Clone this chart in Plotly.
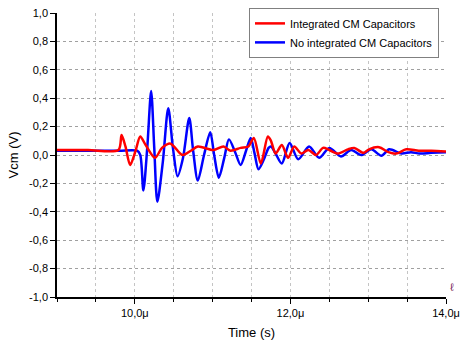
import plotly.graph_objects as go

# ---- data (time in microseconds, voltage in V) ----
blue_t = [9.0, 9.4, 9.8, 10.03, 10.07, 10.11, 10.16, 10.21, 10.25, 10.29, 10.36, 10.43, 10.49, 10.55,
          10.62, 10.70, 10.75, 10.81, 10.89, 10.97, 11.02, 11.08, 11.15, 11.21, 11.29, 11.36, 11.43,
          11.49, 11.54, 11.59, 11.66, 11.72, 11.75, 11.81, 11.89, 11.99, 12.10, 12.24, 12.37, 12.50,
          12.65, 12.78, 12.91, 13.04, 13.17, 13.27, 13.43, 13.55, 13.66, 13.81, 14.0]
blue_v = [0.03, 0.03, 0.03, 0.03, 0.0, -0.25, 0.05, 0.45, 0.05, -0.33, -0.05, 0.33, 0.05, -0.15,
          -0.02, 0.26, 0.03, -0.18, 0.0, 0.16, 0.0, -0.16, -0.02, 0.11, 0.02, -0.07, 0.03,
          0.12, 0.01, -0.10, -0.03, 0.05, 0.06, 0.01, -0.06, 0.085, -0.03, 0.06, -0.02, 0.05,
          -0.01, 0.035, 0.0, 0.04, -0.005, 0.04, 0.01, 0.02, 0.01, 0.015, 0.02]

red_t = [9.0, 9.4, 9.79, 9.83, 9.88, 9.94, 10.01, 10.07, 10.14, 10.26, 10.35, 10.46, 10.61, 10.72,
         10.81, 11.01, 11.14, 11.23, 11.36, 11.46, 11.53, 11.62, 11.71, 11.75, 11.81, 11.89, 11.97,
         12.05, 12.14, 12.23, 12.33, 12.42, 12.50, 12.61, 12.74, 12.82, 12.94, 13.01, 13.14, 13.26,
         13.36, 13.49, 13.65, 13.81, 14.0]
red_v = [0.035, 0.035, 0.035, 0.14, 0.06, -0.07, 0.03, 0.13, 0.07, -0.02, 0.05, 0.08, 0.0, 0.03,
         0.06, 0.035, 0.06, 0.03, 0.05, 0.06, 0.12, -0.06, 0.13, 0.10, 0.01, 0.07, -0.02,
         0.06, 0.01, 0.035, 0.0, 0.05, 0.035, 0.01, 0.04, 0.05, 0.015, 0.04, 0.055, 0.02,
         0.01, 0.04, 0.03, 0.03, 0.025]

x_tickvals = [10, 12, 14]
x_ticktext = ["10,0\u03bc", "12,0\u03bc", "14,0\u03bc"]
y_tickvals = [1.0, 0.8, 0.6, 0.4, 0.2, 0.0, -0.2, -0.4, -0.6, -0.8, -1.0]
y_ticktext = ["1,0", "0,8", "0,6", "0,4", "0,2", "0,0", "-0,2", "-0,4", "-0,6", "-0,8", "-1,0"]

series_names = ["Integrated CM Capacitors", "No integrated CM Capacitors"]

fig = go.Figure()
fig.add_trace(go.Scatter(x=blue_t, y=blue_v, mode="lines", name=series_names[1],
                         line=dict(color="#0000ff", width=2.5, shape="spline", smoothing=0.8),
                         legendrank=2))
fig.add_trace(go.Scatter(x=red_t, y=red_v, mode="lines", name=series_names[0],
                         line=dict(color="#ff0000", width=2.5, shape="spline", smoothing=0.8),
                         legendrank=1))

font = "Liberation Sans, Arial, sans-serif"
fig.update_layout(
    width=466, height=340,
    margin=dict(l=57, r=20, t=13, b=43, autoexpand=False),
    paper_bgcolor="white", plot_bgcolor="white",
    font=dict(family=font, size=11, color="black"),
    showlegend=True,
    legend=dict(x=0.982, y=1.018, xanchor="right", yanchor="top",
                bgcolor="white", bordercolor="#808080", borderwidth=1,
                font=dict(size=11), itemwidth=30, tracegroupgap=0,
                traceorder="normal"),
    xaxis=dict(range=[9, 14], tickvals=x_tickvals, ticktext=x_ticktext, automargin=False,
               ticks="outside", ticklen=5, tickcolor="black", tickwidth=1,
               showline=True, linecolor="black", linewidth=1.5,
               showgrid=True, gridcolor="#c4c4c4", griddash="dot", gridwidth=1,
               zeroline=False,
               minor=dict(dtick=0.5, tick0=9, ticks="outside", ticklen=3, tickcolor="black",
                          showgrid=True, gridcolor="#c4c4c4", griddash="dot"),
               title=dict(text="Time (s)", font=dict(size=13), standoff=10),
               tickfont=dict(size=11)),
    yaxis=dict(range=[-1, 1], tickvals=y_tickvals, ticktext=y_ticktext, automargin=False,
               ticks="outside", ticklen=5, tickcolor="black", tickwidth=1,
               showline=True, linecolor="black", linewidth=1.5,
               showgrid=True, gridcolor="#a0a0a0", griddash="dot", gridwidth=1,
               zeroline=False,
               title=dict(text="Vcm (V)", font=dict(size=13), standoff=8),
               tickfont=dict(size=11)),
)

fig.add_annotation(x=1.0, y=0.0, xref="paper", yref="paper", xanchor="left", yanchor="bottom",
                   text="\u2113", showarrow=False, xshift=2, yshift=2,
                   font=dict(size=11, color="#7b1f5e"))

fig.write_html("out.html",
               config={"displayModeBar": False},
               post_script="document.body.style.margin='0';document.body.style.overflow='hidden';")
